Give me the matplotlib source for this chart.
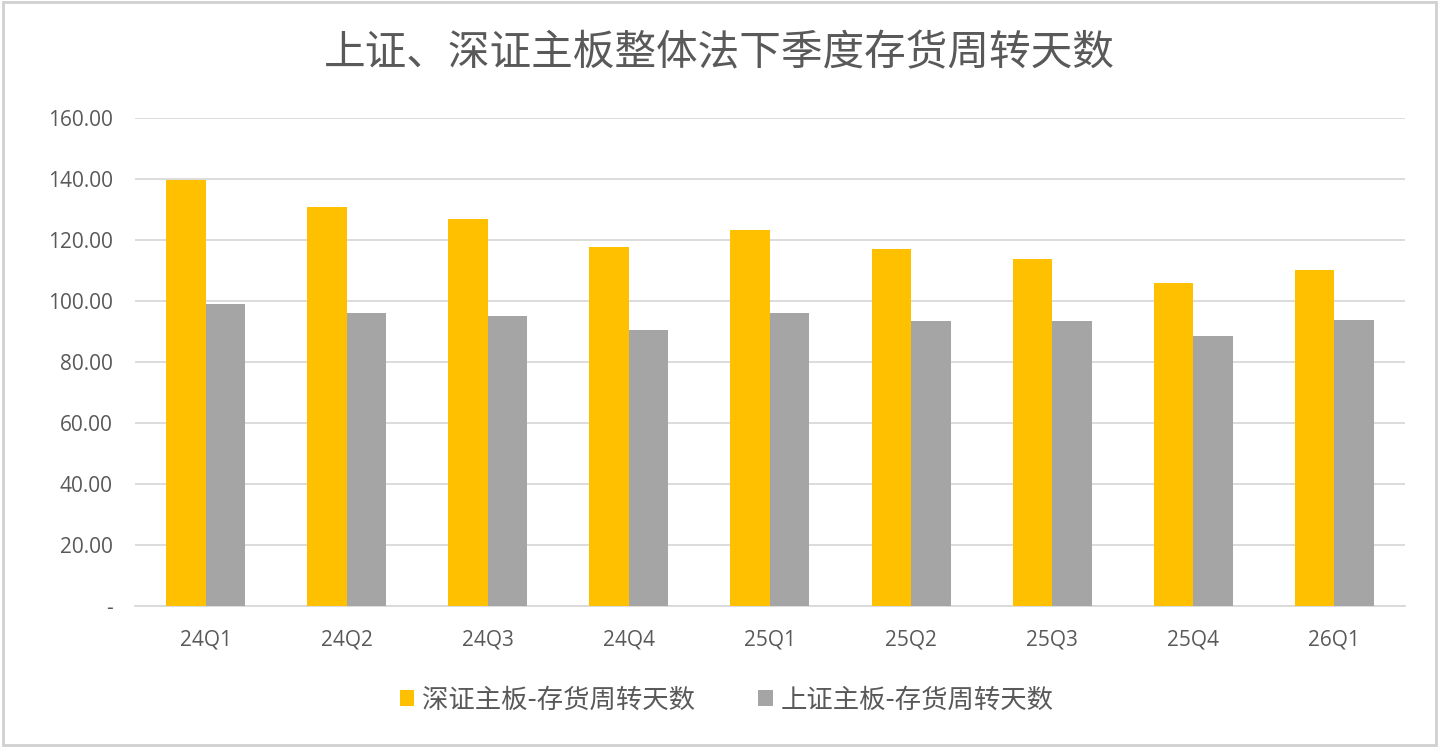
import numpy as np
import matplotlib
matplotlib.use("Agg")
import matplotlib.pyplot as plt
from matplotlib.patches import Rectangle

plt.rcParams['font.family'] = ['Noto Sans CJK SC', 'DejaVu Sans']

quarters = ["24Q1", "24Q2", "24Q3", "24Q4", "25Q1", "25Q2", "25Q3", "25Q4", "26Q1"]
shenzhen = [139.5, 130.9, 127.0, 117.6, 123.3, 116.9, 113.6, 105.9, 110.0]
shanghai = [99.1, 96.2, 95.2, 90.4, 96.2, 93.3, 93.3, 88.4, 93.9]
y_ticks = [0, 20, 40, 60, 80, 100, 120, 140, 160]

text_color = "#595959"
grid_color = "#D9D9D9"

fig = plt.figure(figsize=(14.39, 7.47), dpi=100)
ax = fig.add_axes([0.0938, 0.1888, 0.8825, 0.6533])

x = np.arange(len(quarters))
w = 0.28
ax.bar(x - w / 2, shenzhen, width=w, color="#FFC000", label="深证主板-存货周转天数", zorder=3)
ax.bar(x + w / 2, shanghai, width=w, color="#A5A5A5", label="上证主板-存货周转天数", zorder=3)

ax.set_xlim(-0.5, len(quarters) - 0.5)
ax.set_ylim(0, 160)
ax.set_yticks(y_ticks)
ax.set_yticklabels(["-" if v == 0 else f"{v:.2f}" for v in y_ticks])
ax.set_xticks(x)
ax.set_xticklabels(quarters)
ax.tick_params(axis="both", length=0, labelsize=15, colors=text_color)
ax.tick_params(axis="x", pad=17)
ax.tick_params(axis="y", pad=16)
for lab in ax.get_yticklabels() + ax.get_xticklabels():
    lab.set_family(['Open Sans', 'DejaVu Sans'])

ax.grid(axis="y", color=grid_color, linewidth=1.3, zorder=0)
for s in ["top", "right", "left"]:
    ax.spines[s].set_visible(False)
ax.spines["bottom"].set_color(grid_color)
ax.spines["bottom"].set_linewidth(1.3)

fig.text(0.5, 0.928, "上证、深证主板整体法下季度存货周转天数", ha="center", va="center",
         fontsize=30, color=text_color)

leg = fig.legend(loc="center", bbox_to_anchor=(0.505, 0.063), ncol=2, frameon=False,
                 fontsize=19, handlelength=0.55, handleheight=0.55, handletextpad=0.3,
                 columnspacing=2.4)
for t in leg.get_texts():
    t.set_color(text_color)

fig.patches.append(Rectangle((0.002, 0.003), 0.996, 0.994, transform=fig.transFigure,
                             fill=False, edgecolor="#D0D0D0", linewidth=2))

plt.savefig("out.png", dpi=100)
